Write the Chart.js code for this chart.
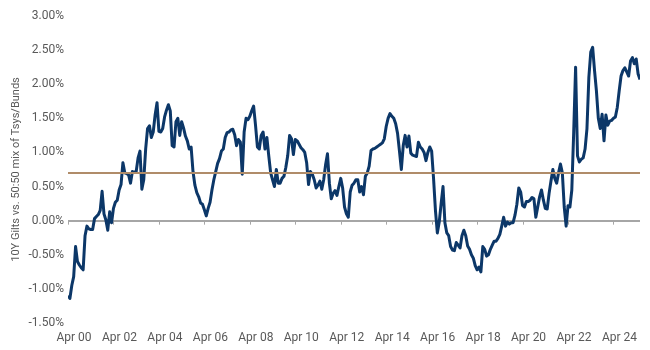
<!DOCTYPE html>
<html>
<head>
<meta charset="utf-8">
<script src="https://cdn.jsdelivr.net/npm/chart.js@4.4.1/dist/chart.umd.min.js"></script>
<style>
  html, body { margin: 0; padding: 0; background: #fff; }
</style>
</head>
<body>
<canvas id="myChart" width="650" height="350"></canvas>
<script>
// monthly spread, 10Y Gilts vs 50:50 Tsys/Bunds (%), starting Apr 2000
var spread2000s = [
  -1.10, -1.14, -0.95, -0.82, -0.38, -0.60, -0.65, -0.69, -0.72, -0.22,
  -0.08, -0.12, -0.13, -0.13, 0.03, 0.06, 0.09, 0.15, 0.43, 0.10,
  0.01, -0.14, 0.13, -0.03, 0.18, 0.27, 0.30, 0.45, 0.53, 0.85,
  0.70, 0.69, 0.67, 0.55, 0.72, 0.71, 0.72, 0.92, 1.02, 0.46,
  0.60, 1.05, 1.35, 1.39, 1.22, 1.30, 1.55, 1.73, 1.31, 1.30,
  1.35, 1.52, 1.62, 1.70, 1.61, 1.10, 1.08, 1.45, 1.50, 1.25,
  1.45, 1.36, 1.24, 1.17, 1.05, 1.08, 0.72, 0.52, 0.41, 0.35,
  0.26, 0.24, 0.16, 0.07, 0.18, 0.27, 0.45, 0.60, 0.72, 0.84,
  0.91, 1.02, 1.05, 1.22, 1.29, 1.30, 1.33, 1.34, 1.26, 1.10,
  1.19, 1.15, 0.68, 1.30, 1.50, 1.48, 1.53, 1.61, 1.68, 1.40,
  1.08, 1.05, 1.25, 1.30, 1.05, 1.22, 0.95, 0.70, 0.60, 0.50,
  0.75, 0.55, 0.55, 0.62, 0.65, 0.78, 0.95
];
var spread2010s = [
  1.25, 1.20, 0.97, 1.19, 1.17, 1.12, 1.07, 1.04, 1.00, 0.85,
  0.53, 0.72, 0.68, 0.60, 0.48, 0.52, 0.58, 0.46, 0.60, 0.82,
  0.98, 0.55, 0.32, 0.40, 0.44, 0.37, 0.50, 0.62, 0.48, 0.20,
  0.10, 0.05, 0.42, 0.52, 0.55, 0.60, 0.60, 0.42, 0.50, 0.38,
  0.65, 0.70, 0.80, 1.03, 1.05, 1.06, 1.08, 1.10, 1.12, 1.14,
  1.20, 1.38, 1.50, 1.57, 1.53, 1.50, 1.42, 1.28, 1.02, 0.75,
  1.10, 1.25, 1.08, 1.24, 0.99, 0.96, 0.95, 0.94, 1.15, 1.08,
  1.05, 1.00, 0.88, 1.00, 1.08, 1.02, 0.62, 0.15, -0.18, -0.02,
  0.25, 0.50, -0.03, -0.18, -0.22, -0.38, -0.43, -0.44, -0.32, -0.36,
  -0.40, -0.22, -0.14, -0.22, -0.37, -0.42, -0.50, -0.55, -0.66, -0.72,
  -0.68, -0.75, -0.38, -0.42, -0.52, -0.50, -0.42, -0.36, -0.30, -0.30,
  -0.26, -0.20, -0.08, 0.05, -0.08, -0.02, -0.05, -0.03, -0.03, 0.08
];
var spread2020s = [
  0.24, 0.48, 0.42, 0.22, 0.20, 0.28, 0.28, 0.30, 0.34, 0.32,
  0.05, 0.20, 0.35, 0.45, 0.30, 0.18, 0.17, 0.40, 0.58, 0.75,
  0.62, 0.55, 0.70, 0.83, 0.70, 0.20, -0.08, 0.22, 0.20, 0.45,
  1.30, 2.25, 0.95, 0.86, 0.90, 0.92, 1.05, 1.35, 2.10, 2.47,
  2.54, 2.20, 1.90, 1.50, 1.35, 1.56, 1.17, 1.55, 1.40, 1.46,
  1.47, 1.50, 1.52, 1.66, 1.90, 2.12, 2.20, 2.24, 2.18, 2.12,
  2.34, 2.39, 2.30, 2.37, 2.15, 2.07
];
var tickLabels = ['Apr 00', 'Apr 02', 'Apr 04', 'Apr 06', 'Apr 08', 'Apr 10', 'Apr 12',
  'Apr 14', 'Apr 16', 'Apr 18', 'Apr 20', 'Apr 22', 'Apr 24'];
var monthsPerTick = 24;
var averageLevel = 0.70;
var yTitle = '10Y Gilts vs. 50:50 mix of Tsys/Bunds';

var allValues = spread2000s.concat(spread2010s, spread2020s);
var spreadPoints = [];
for (var i = 0; i < allValues.length; i++) {
  spreadPoints.push({ x: i, y: allValues[i] });
}
var lastMonth = allValues.length - 1;
var averagePoints = [{ x: 0, y: averageLevel }, { x: lastMonth, y: averageLevel }];

var FONT = 'Roboto, "Liberation Sans", Arial, sans-serif';
var GREY = '#a6a6a6';

// little tick marks hanging off the zero line
var zeroTicks = {
  id: 'zeroTicks',
  beforeDatasetsDraw: function(chart) {
    var ctx = chart.ctx;
    var xs = chart.scales.x;
    var y0 = chart.scales.y.getPixelForValue(0);
    ctx.save();
    ctx.strokeStyle = GREY;
    ctx.lineWidth = 1;
    xs.ticks.forEach(function(t) {
      var px = Math.round(xs.getPixelForValue(t.value)) + 0.5;
      ctx.beginPath();
      ctx.moveTo(px, y0);
      ctx.lineTo(px, y0 + 4);
      ctx.stroke();
    });
    ctx.restore();
  }
};

var ctx = document.getElementById('myChart').getContext('2d');
var chart = new Chart(ctx, {
  type: 'line',
  data: {
    datasets: [{
      data: averagePoints,
      borderColor: '#b08c69',
      borderWidth: 2,
      pointRadius: 0,
      order: 0
    }, {
      data: spreadPoints,
      borderColor: '#0c3768',
      borderWidth: 3,
      pointRadius: 0,
      tension: 0,
      borderJoinStyle: 'round',
      order: 1
    }]
  },
  options: {
    responsive: false,
    animation: false,
    layout: { padding: { left: 0, right: 10, top: 16, bottom: 5 } },
    plugins: {
      legend: { display: false },
      tooltip: { enabled: false }
    },
    scales: {
      x: {
        type: 'linear',
        min: 0,
        max: lastMonth,
        grid: { display: false, drawTicks: false },
        border: { display: false },
        afterBuildTicks: function(scale) {
          scale.ticks = tickLabels.map(function(l, k) { return { value: k * monthsPerTick }; });
        },
        afterFit: function(scale) { scale.height = 22; },
        ticks: {
          autoSkip: false,
          maxRotation: 0,
          padding: 8,
          labelOffset: 6,
          color: '#595959',
          font: { family: FONT, size: 12 },
          callback: function(value) {
            return tickLabels[Math.round(value / monthsPerTick)];
          }
        }
      },
      y: {
        min: -1.5,
        max: 3,
        afterFit: function(scale) { scale.width = 68; },
        grid: {
          drawTicks: false,
          color: function(c) { return c.tick && c.tick.value === 0 ? GREY : 'rgba(0,0,0,0)'; },
          lineWidth: function(c) { return c.tick && c.tick.value === 0 ? 2 : 0; }
        },
        border: { display: false },
        ticks: {
          stepSize: 0.5,
          padding: 4,
          color: '#595959',
          font: { family: FONT, size: 12 },
          callback: function(v) { return v.toFixed(2) + '%'; }
        },
        title: {
          display: true,
          text: yTitle,
          color: '#595959',
          font: { family: FONT, size: 11 },
          padding: { top: 10, bottom: 0 }
        }
      }
    }
  },
  plugins: [zeroTicks]
});
</script>
</body>
</html>
